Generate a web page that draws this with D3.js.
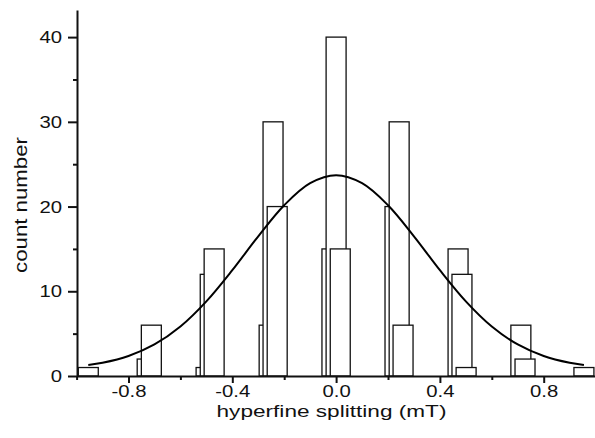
<!DOCTYPE html>
<html>
<head>
<meta charset="utf-8">
<script src="https://cdn.jsdelivr.net/npm/d3@7"></script>
<style>
  html, body { margin: 0; padding: 0; background: #fff; }
  svg text { font-family: "Liberation Sans", Arial, sans-serif; fill: #111; }
</style>
</head>
<body>
<svg id="chart" width="595" height="438"></svg>
<script>
// three overlaid stick histograms + gaussian fit

// bin centres (mT) and counts, one set per series, drawn A then B then C
const centersA = [-0.501, -0.258, -0.016, 0.227, 0.470, 0.712, 0.955];
const countsA  = [1, 6, 15, 20, 15, 6, 1];

const centersB = [-0.728, -0.485, -0.243, 0.000, 0.243, 0.485, 0.728];
const countsB  = [2, 12, 30, 40, 30, 12, 2];

const centersC = [-0.955, -0.712, -0.470, -0.227, 0.016, 0.258, 0.501];
const countsC  = [1, 6, 15, 20, 15, 6, 1];

const binWidth = 0.077;

// fitted curve
const fitX = [-0.955, -0.9, -0.8, -0.7, -0.6, -0.5, -0.4, -0.3, -0.2, -0.1, 0,
              0.1, 0.2, 0.3, 0.4, 0.5, 0.6, 0.7, 0.8, 0.9, 0.955];
const fitY = [1.3, 1.56, 2.36, 3.72, 5.84, 8.81, 12.49, 16.49, 20.16, 22.76, 23.7,
              22.76, 20.16, 16.49, 12.49, 8.81, 5.84, 3.72, 2.36, 1.56, 1.3];

const xMajor = [-0.8, -0.4, 0, 0.4, 0.8];
const xMinor = [-1.0, -0.6, -0.2, 0.2, 0.6, 1.0];
const yMajor = [0, 10, 20, 30, 40];
const yMinor = [5, 15, 25, 35];

const width = 595, height = 438;
const margin = { top: 10, right: 0, bottom: 62, left: 77 };
const stretch = 1.27;   // the reference type is drawn wide

const xScale = d3.scaleLinear().domain([-1, 1]).range([76.6, 595.6]);
const yScale = d3.scaleLinear().domain([0, 43.2]).range([height - margin.bottom, margin.top]);

const svg = d3.select("#chart");

const series = [
  { centers: centersA, counts: countsA },
  { centers: centersB, counts: countsB },
  { centers: centersC, counts: countsC }
];

series.forEach(s => {
  const bins = s.centers.map((c, i) => ({ c, n: s.counts[i] }));
  svg.append("g").selectAll("rect")
    .data(bins).join("rect")
    .attr("x", d => xScale(d.c - binWidth / 2))
    .attr("width", d => xScale(d.c + binWidth / 2) - xScale(d.c - binWidth / 2))
    .attr("y", d => yScale(d.n))
    .attr("height", d => yScale(0) - yScale(d.n))
    .attr("fill", "#fff")
    .attr("stroke", "#111")
    .attr("stroke-width", 1.3);
});

const fitLine = d3.line()
  .x((d, i) => xScale(fitX[i]))
  .y(d => yScale(d))
  .curve(d3.curveCatmullRom);

svg.append("path")
  .datum(fitY)
  .attr("d", fitLine)
  .attr("fill", "none")
  .attr("stroke", "#000")
  .attr("stroke-width", 2);

// axes
const xAxisY = yScale(0);

svg.append("g")
  .attr("transform", `translate(0, ${xAxisY})`)
  .call(d3.axisBottom(xScale).tickValues(xMinor).tickSize(4).tickFormat("").tickSizeOuter(0))
  .call(g => g.select(".domain").remove());

svg.append("g")
  .attr("class", "xaxis")
  .attr("transform", `translate(0, ${xAxisY})`)
  .call(d3.axisBottom(xScale).tickValues(xMajor).tickSize(7)
    .tickFormat(d => d3.format(".1f")(d).replace("−", "-")).tickSizeOuter(0));

svg.append("g")
  .attr("transform", `translate(${margin.left}, 0)`)
  .call(d3.axisLeft(yScale).tickValues(yMinor).tickSize(4).tickFormat("").tickSizeOuter(0))
  .call(g => g.select(".domain").remove());

svg.append("g")
  .attr("class", "yaxis")
  .attr("transform", `translate(${margin.left}, 0)`)
  .call(d3.axisLeft(yScale).tickValues(yMajor).tickSize(9).tickSizeOuter(0));

svg.selectAll(".domain, .tick line").attr("stroke", "#111").attr("stroke-width", 2);
svg.selectAll(".tick text").attr("font-size", 16).attr("fill", "#111")
  .attr("font-family", '"Liberation Sans", Arial, sans-serif');

svg.selectAll(".xaxis .tick text")
  .attr("x", 0).attr("y", 0).attr("dy", null)
  .attr("transform", `translate(0, 21) scale(${stretch}, 1)`);

svg.selectAll(".yaxis .tick text")
  .attr("x", 0).attr("dy", "0.35em")
  .attr("transform", `translate(-15, 0) scale(${stretch}, 1)`);

svg.append("text")
  .attr("transform", "translate(331.5, 417) scale(1.33, 1)")
  .attr("text-anchor", "middle")
  .attr("font-size", 17)
  .text("hyperfine splitting (mT)");

svg.append("text")
  .attr("transform", `translate(27, 205) rotate(-90) scale(${stretch}, 1)`)
  .attr("text-anchor", "middle")
  .attr("font-size", 17.5)
  .text("count number");
</script>
</body>
</html>
